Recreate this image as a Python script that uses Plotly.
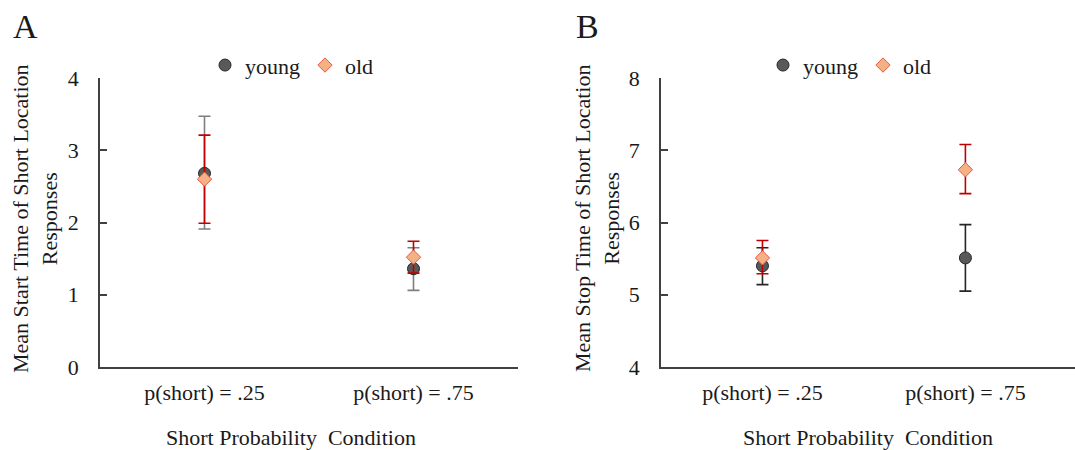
import plotly.graph_objects as go

categories = ["p(short) = .25", "p(short) = .75"]

# Panel A: Mean start time
a_young = [2.68, 1.36]
a_young_up = [0.79, 0.29]
a_young_dn = [0.77, 0.30]
a_old = [2.60, 1.52]
a_old_up = [0.61, 0.22]
a_old_dn = [0.61, 0.22]

# Panel B: Mean stop time
b_young = [5.40, 5.51]
b_young_up = [0.25, 0.46]
b_young_dn = [0.26, 0.46]
b_old = [5.51, 6.73]
b_old_up = [0.24, 0.35]
b_old_dn = [0.22, 0.33]

FONT = "Liberation Serif"
TXT = "#1a1a1a"
YOUNG_FILL = "#595959"
YOUNG_LINE = "#262626"
OLD_FILL = "#f4b183"
OLD_LINE = "#e8584a"
OLD_ERR = "#c00000"

fig = go.Figure()

def add_panel(xa, ya, leg, young, yup, ydn, old, oup, odn, young_err_color):
    fig.add_trace(go.Scatter(
        x=categories, y=young, mode="markers", name="young",
        xaxis=xa, yaxis=ya, legend=leg,
        marker=dict(symbol="circle", size=12, color=YOUNG_FILL,
                    line=dict(color=YOUNG_LINE, width=1)),
        error_y=dict(type="data", symmetric=False, array=yup, arrayminus=ydn,
                     color=young_err_color, thickness=1.6, width=6),
    ))
    fig.add_trace(go.Scatter(
        x=categories, y=old, mode="markers", name="old",
        xaxis=xa, yaxis=ya, legend=leg,
        marker=dict(symbol="diamond", size=11, color=OLD_FILL,
                    line=dict(color=OLD_LINE, width=1)),
        error_y=dict(type="data", symmetric=False, array=oup, arrayminus=odn,
                     color=OLD_ERR, thickness=1.6, width=6),
    ))

add_panel("x", "y", "legend", a_young, a_young_up, a_young_dn,
          a_old, a_old_up, a_old_dn, "#7f7f7f")
add_panel("x2", "y2", "legend2", b_young, b_young_up, b_young_dn,
          b_old, b_old_up, b_old_dn, "#262626")

ydom = [1 - 367 / 450, 1 - 78 / 450]
axis_common = dict(showline=True, linecolor="#404040", linewidth=1.5,
                   showgrid=False, zeroline=False, mirror=False, automargin=False,
                   tickfont=dict(family=FONT, size=22, color=TXT))

fig.update_layout(
    width=1075, height=450,
    margin=dict(l=0, r=0, t=0, b=0, autoexpand=False),
    paper_bgcolor="white", plot_bgcolor="white",
    font=dict(family=FONT, color=TXT),
    xaxis=dict(domain=[100 / 1075, 518 / 1075], anchor="y", type="category",
               range=[-0.5, 1.5], ticks="", ticklabelstandoff=5, **axis_common),
    yaxis=dict(domain=ydom, anchor="x", range=[0, 4], dtick=1,
               ticks="inside", ticklen=7, tickcolor="#404040", tickwidth=1.5,
               ticklabelstandoff=15, **axis_common),
    xaxis2=dict(domain=[661 / 1075, 1.0], anchor="y2", type="category",
                range=[-0.5, 1.54], ticks="", ticklabelstandoff=5, **axis_common),
    yaxis2=dict(domain=ydom, anchor="x2", range=[4, 8], dtick=1,
                ticks="inside", ticklen=7, tickcolor="#404040", tickwidth=1.5,
                ticklabelstandoff=15, **axis_common),
    legend=dict(orientation="h", x=205 / 1075, y=0.855, xanchor="left", yanchor="middle",
                font=dict(family=FONT, size=22), bgcolor="rgba(0,0,0,0)",
                itemwidth=30, tracegroupgap=0),
    legend2=dict(orientation="h", x=763 / 1075, y=0.855, xanchor="left", yanchor="middle",
                 font=dict(family=FONT, size=22), bgcolor="rgba(0,0,0,0)",
                 itemwidth=30, tracegroupgap=0),
    showlegend=True,
)

annos = [
    dict(text="A", x=25 / 1075, y=1 - 26 / 450, font=dict(size=34)),
    dict(text="B", x=587 / 1075, y=1 - 26 / 450, font=dict(size=34)),
    dict(text="Short Probability  Condition", x=291 / 1075, y=1 - 437 / 450, font=dict(size=22)),
    dict(text="Short Probability  Condition", x=868 / 1075, y=1 - 437 / 450, font=dict(size=22)),
    dict(text="Mean Start Time of Short Location<br>Responses", x=35 / 1075, y=1 - 219 / 450,
         textangle=-90, font=dict(size=22)),
    dict(text="Mean Stop Time of Short Location<br>Responses", x=597 / 1075, y=1 - 219 / 450,
         textangle=-90, font=dict(size=22)),
]
for a in annos:
    fig.add_annotation(xref="paper", yref="paper", showarrow=False,
                       xanchor="center", yanchor="middle",
                       text=a["text"], x=a["x"], y=a["y"],
                       textangle=a.get("textangle", 0),
                       font=dict(family=FONT, color=TXT, **a["font"]))

fig.write_html("out.html")
